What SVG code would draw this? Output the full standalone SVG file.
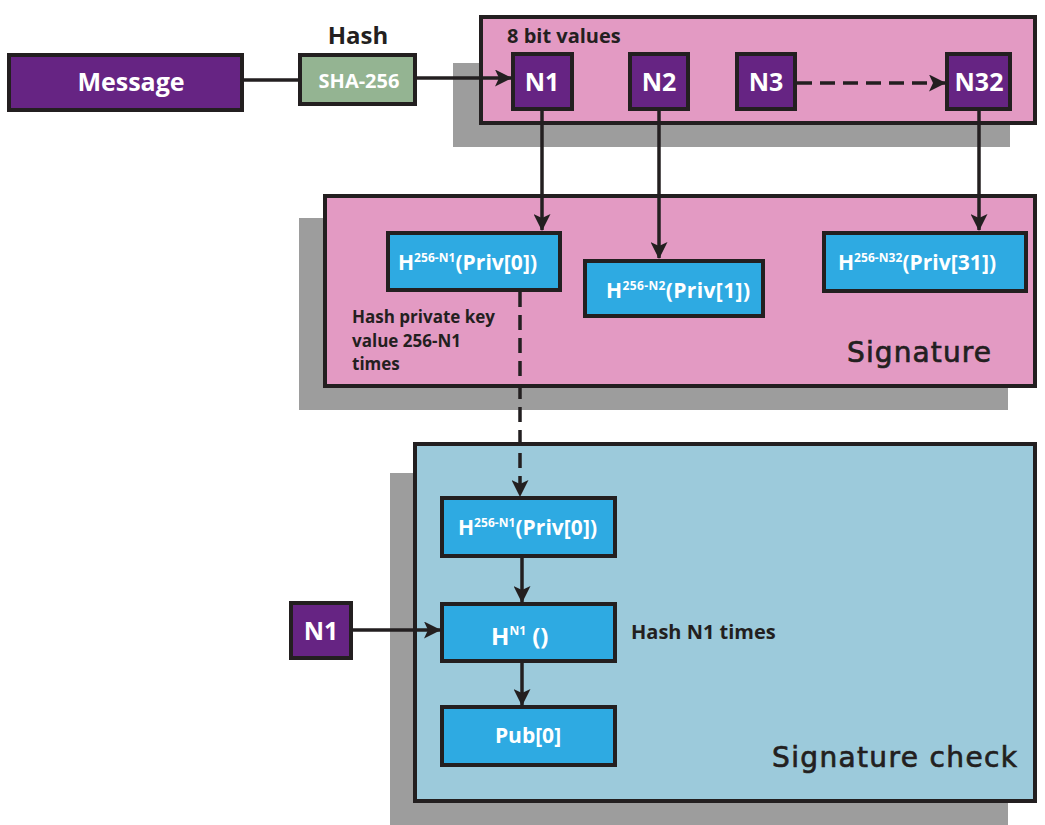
<svg xmlns="http://www.w3.org/2000/svg" width="1045" height="825" viewBox="0 0 1045 825">
<style>
.bx{stroke:#231f20;stroke-width:4}
.pur{fill:#662483}
.grn{fill:#94b492}
.pink{fill:#e39ac3}
.blue{fill:#2eaae2}
.lblue{fill:#9ccadb}
.sh{fill:#9d9d9d}
.wt{fill:#ffffff;font-family:"Open Sans","Liberation Sans",sans-serif;font-weight:700}
.dk{fill:#231f20;font-family:"Open Sans","Liberation Sans",sans-serif;font-weight:700}
.cm{fill:#231f20;stroke:#231f20;stroke-width:0.7;font-family:"DejaVu Sans",sans-serif;font-weight:400}
.ln{stroke:#231f20;stroke-width:3.5;fill:none}
.dash{stroke-dasharray:15 8}
</style>
<defs>
<marker id="ah" markerUnits="userSpaceOnUse" markerWidth="17" markerHeight="17" refX="16" refY="8.5" orient="auto">
<path d="M0,0 L17,8.5 L0,17 L4,8.5 z" fill="#231f20"/>
</marker>
</defs>

<!-- shadows -->
<rect class="sh" x="453" y="63" width="557" height="84"/>
<rect class="sh" x="299" y="218" width="709" height="192"/>
<rect class="sh" x="390" y="473" width="618" height="352"/>

<g id="hash-label"><text class="dk" x="358" y="44" font-size="24" text-anchor="middle">Hash</text></g>

<g id="message">
<rect class="bx pur" x="9" y="55" width="233" height="55"/>
<text class="wt" x="131" y="91" font-size="25" text-anchor="middle">Message</text>
</g>

<g id="sha256">
<rect class="bx grn" x="300" y="55" width="115" height="49"/>
<text class="wt" x="359" y="88" font-size="20" text-anchor="middle">SHA-256</text>
</g>

<g id="bits">
<rect class="bx pink" x="481" y="17" width="554" height="106"/>
<text class="dk" x="507" y="43" font-size="20">8 bit values</text>
</g>

<g id="n1"><rect class="bx pur" x="513" y="54" width="59" height="55"/><text class="wt" x="542" y="91" font-size="25" text-anchor="middle">N1</text></g>
<g id="n2"><rect class="bx pur" x="630" y="54" width="58" height="55"/><text class="wt" x="659" y="91" font-size="25" text-anchor="middle">N2</text></g>
<g id="n3"><rect class="bx pur" x="737" y="54" width="58" height="55"/><text class="wt" x="766" y="91" font-size="25" text-anchor="middle">N3</text></g>
<g id="n32"><rect class="bx pur" x="947" y="54" width="63" height="55"/><text class="wt" x="979" y="91" font-size="25" text-anchor="middle">N32</text></g>

<g id="signature">
<rect class="bx pink" x="325" y="196" width="710" height="190"/>
<text class="dk" font-size="17"><tspan x="352" y="323">Hash private key</tspan><tspan x="352" y="347">value 256-N1</tspan><tspan x="352" y="370">times</tspan></text>
<text class="cm" x="847" y="362" font-size="28" textLength="144">Signature</text>
</g>

<g id="sig0">
<rect class="bx blue" x="388" y="233" width="172" height="57"/>
<text class="wt" x="398" y="270" font-size="21" textLength="139">H<tspan font-size="12" dy="-8">256-N1</tspan><tspan dy="8">(Priv[0])</tspan></text>
</g>
<g id="sig1">
<rect class="bx blue" x="585" y="261" width="178" height="55"/>
<text class="wt" x="606" y="298" font-size="21" textLength="144">H<tspan font-size="12" dy="-8">256-N2</tspan><tspan dy="8">(Priv[1])</tspan></text>
</g>
<g id="sig31">
<rect class="bx blue" x="824" y="233" width="202" height="58"/>
<text class="wt" x="838" y="270" font-size="21" textLength="158">H<tspan font-size="12" dy="-8">256-N32</tspan><tspan dy="8">(Priv[31])</tspan></text>
</g>

<g id="sigcheck">
<rect class="bx lblue" x="415" y="444" width="620" height="357"/>
<text class="dk" x="631" y="639" font-size="20">Hash N1 times</text>
<text class="cm" x="772" y="767" font-size="28" textLength="245">Signature check</text>
</g>

<g id="chk0">
<rect class="bx blue" x="442" y="498" width="173" height="58"/>
<text class="wt" x="458" y="535" font-size="21" textLength="139">H<tspan font-size="12" dy="-8">256-N1</tspan><tspan dy="8">(Priv[0])</tspan></text>
</g>
<g id="hn1">
<rect class="bx blue" x="442" y="604" width="173" height="57"/>
<text class="wt" x="491" y="645" font-size="24">H<tspan font-size="12" dy="-10">N1</tspan><tspan dy="10"> ()</tspan></text>
</g>
<g id="pub0">
<rect class="bx blue" x="442" y="707" width="173" height="58"/>
<text class="wt" x="528" y="743" font-size="21" text-anchor="middle">Pub[0]</text>
</g>

<g id="n1check"><rect class="bx pur" x="291" y="603" width="60" height="55"/><text class="wt" x="321" y="640" font-size="25" text-anchor="middle">N1</text></g>

<g id="connectors">
<line class="ln" x1="244" y1="80" x2="298" y2="80"/>
<line class="ln" x1="417" y1="78" x2="511" y2="78" marker-end="url(#ah)"/>
<line class="ln dash" x1="797" y1="83" x2="945" y2="83" stroke-dasharray="13 7" marker-end="url(#ah)"/>
<line class="ln" x1="542" y1="111" x2="542" y2="230" marker-end="url(#ah)"/>
<line class="ln" x1="659" y1="111" x2="659" y2="258" marker-end="url(#ah)"/>
<line class="ln" x1="979" y1="111" x2="979" y2="230" marker-end="url(#ah)"/>
<line class="ln dash" x1="520" y1="292" x2="520" y2="496" marker-end="url(#ah)"/>
<line class="ln" x1="522" y1="558" x2="522" y2="602" marker-end="url(#ah)"/>
<line class="ln" x1="522" y1="663" x2="522" y2="705" marker-end="url(#ah)"/>
<line class="ln" x1="353" y1="630" x2="440" y2="630" marker-end="url(#ah)"/>
</g>
</svg>
